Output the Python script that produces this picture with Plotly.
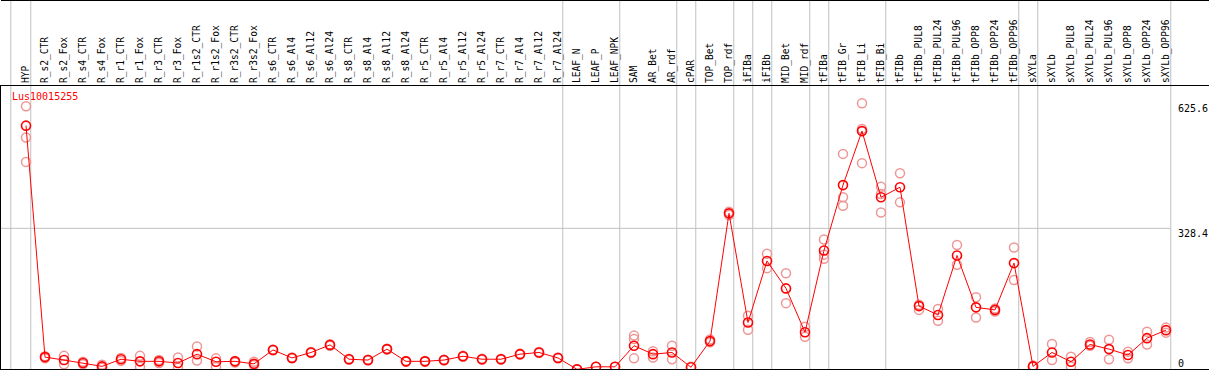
import plotly.graph_objects as go

categories = ["HYP", "R_s2_CTR", "R_s2_Fox", "R_s4_CTR", "R_s4_Fox", "R_r1_CTR", "R_r1_Fox",
              "R_r3_CTR", "R_r3_Fox", "R_r1s2_CTR", "R_r1s2_Fox", "R_r3s2_CTR", "R_r3s2_Fox",
              "R_s6_CTR", "R_s6_Al4", "R_s6_Al12", "R_s6_Al24", "R_s8_CTR", "R_s8_Al4",
              "R_s8_Al12", "R_s8_Al24", "R_r5_CTR", "R_r5_Al4", "R_r5_Al12", "R_r5_Al24",
              "R_r7_CTR", "R_r7_Al4", "R_r7_Al12", "R_r7_Al24", "LEAF_N", "LEAF_P", "LEAF_NPK",
              "SAM", "AR_Bet", "AR_rdf", "cPAR", "TOP_Bet", "TOP_rdf", "iFIBa", "iFIBb",
              "MID_Bet", "MID_rdf", "tFIBa", "tFIB_Gr", "tFIB_Li", "tFIB_Bi", "tFIBb",
              "tFIBb_PUL8", "tFIBb_PUL24", "tFIBb_PUL96", "tFIBb_OPP8", "tFIBb_OPP24",
              "tFIBb_OPP96", "sXYLa", "sXYLb", "sXYLb_PUL8", "sXYLb_PUL24", "sXYLb_PUL96",
              "sXYLb_OPP8", "sXYLb_OPP24", "sXYLb_OPP96"]

mean_vals = [572, 23, 16, 9, 1, 18, 13, 13, 9, 30, 12, 13, 7,
             40, 21, 34, 52, 18, 16, 42, 13, 13, 16, 25, 18, 18, 30, 34, 21,
             -6, 0, 0, 50, 30, 34, -1, 61, 364, 105, 251, 186, 82, 276,
             431, 559, 402, 426, 144, 123, 264, 141, 135, 246,
             1, 34, 12, 53, 42, 28, 68, 87]

rep_vals = [[618, 544, 486], [25, 20], [26, 6], [12, 6], [5, -2], [21, 14], [26, 0],
            [16, 9], [22, -2], [48, 15], [20, 0], [14, 10], [12, 4],
            [41, 39], [22, 20], [35, 33], [53, 50], [19, 17], [17, 15], [43, 41],
            [14, 12], [14, 12], [17, 15], [26, 24], [19, 17], [19, 17], [31, 29],
            [35, 33], [22, 20], [-6], [0], [0], [74, 66, 20], [37, 22], [50, 18],
            [0], [65, 58], [368, 360], [121, 88], [268, 234], [222, 151], [95, 71],
            [302, 266, 256], [505, 402, 382], [625, 564, 483], [427, 410, 366],
            [459, 390], [147, 135], [137, 109], [289, 242], [165, 117], [138, 131],
            [283, 206], [3, 0], [54, 16], [24, 0], [59, 50], [64, 18], [36, 20],
            [83, 53], [93, 81]]

gene = "Lus10015255"
y_ticks = [0, 328.4, 625.6]
y_tick_labels = ["0", "328.4", "625.6"]
group_ends = [-1.05, 0, 28, 31, 34, 35, 37, 38, 39, 41, 42, 45, 52, 53, 60]

x_idx = list(range(len(categories)))
rep_x, rep_y = [], []
for i, reps in enumerate(rep_vals):
    for v in reps:
        rep_x.append(i)
        rep_y.append(v)

W, H = 1209, 370
ml, mr, mt, mb = 1, 0, 86, 1
plot_w = W - ml - mr
plot_h = H - mt - mb
px_per_cat = 19.0
x0 = -(26 - ml) / px_per_cat
x1 = x0 + plot_w / px_per_cat
y_lo, y_hi = -5.2, 666.0

mono = "DejaVu Sans Mono"
fig = go.Figure()
fig.add_trace(go.Scatter(
    x=rep_x, y=rep_y, mode="markers",
    marker=dict(symbol="circle-open", size=9, color="rgb(238,150,150)",
                line=dict(width=1.5, color="rgb(238,150,150)")),
    hoverinfo="skip", showlegend=False))
fig.add_trace(go.Scatter(
    x=x_idx, y=mean_vals, mode="lines+markers",
    line=dict(color="#ff0000", width=1),
    marker=dict(symbol="circle-open", size=9, color="#ff0000",
                line=dict(width=1.6, color="#ff0000")),
    showlegend=False))

shapes = []
top_paper = 1 + (mt - 0.5) / plot_h
for g in group_ends:
    shapes.append(dict(type="line", xref="x", yref="paper", x0=g + 0.25, x1=g + 0.25,
                       y0=0, y1=top_paper, line=dict(color="#c0c0c0", width=1), layer="below"))
shapes.append(dict(type="line", xref="x", yref="y", x0=x0, x1=group_ends[-1] + 0.25,
                   y0=y_ticks[1], y1=y_ticks[1], line=dict(color="#c0c0c0", width=1), layer="below"))
shapes.append(dict(type="line", xref="paper", yref="paper", x0=0, x1=1, y0=top_paper, y1=top_paper,
                   line=dict(color="black", width=1)))

annotations = [dict(text=gene, xref="paper", yref="paper", x=(10 - ml) / plot_w,
                    y=1 - (96.5 - mt) / plot_h, xanchor="left", yanchor="middle",
                    showarrow=False, font=dict(family=mono, size=10, color="#ff0000"))]
for v, t in zip(y_ticks, y_tick_labels):
    annotations.append(dict(text=t, xref="x", yref="y", x=group_ends[-1] + 0.25, y=v,
                            xanchor="left", yanchor="bottom" if v == 0 else "top",
                            xshift=5, yshift=-4 if v == 0 else 2, showarrow=False,
                            font=dict(family=mono, size=10, color="black")))

fig.update_layout(
    width=W, height=H, margin=dict(l=ml, r=mr, t=mt, b=mb, autoexpand=False),
    paper_bgcolor="white", plot_bgcolor="white",
    shapes=shapes, annotations=annotations, hovermode=False,
    xaxis=dict(range=[x0, x1], side="top", tickmode="array", tickvals=x_idx,
               ticktext=categories, tickangle=-90, showgrid=False, zeroline=False,
               automargin=False,
               tickfont=dict(family=mono, size=9.6, color="black"),
               showline=True, linecolor="black", linewidth=1, mirror=True, ticks=""),
    yaxis=dict(range=[y_lo, y_hi], showticklabels=False, showgrid=False, zeroline=False,
               automargin=False,
               showline=True, linecolor="black", linewidth=2),
)
fig.write_html("out.html", config={"displayModeBar": False},
               post_script="document.body.style.margin='0';document.body.style.padding='0';")
